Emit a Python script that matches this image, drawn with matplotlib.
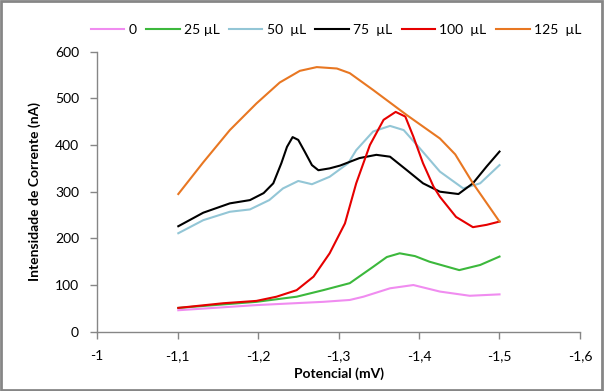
import matplotlib
matplotlib.use("Agg")
import matplotlib.pyplot as plt
from matplotlib.patches import Rectangle

plt.rcParams['font.family'] = ['Lato', 'DejaVu Sans']

# ---- data ----
x0 = [-1.101, -1.198, -1.281, -1.314, -1.331, -1.364, -1.393, -1.426, -1.463, -1.5]
y0 = [46, 57, 64, 68, 75, 93, 100, 86, 77, 80]

x25 = [-1.101, -1.198, -1.248, -1.281, -1.314, -1.343, -1.360, -1.376, -1.395, -1.413,
       -1.450, -1.476, -1.5]
y25 = [51, 64, 75, 89, 104, 139, 160, 168, 162, 150, 132, 143, 161]

x50 = [-1.101, -1.132, -1.165, -1.190, -1.214, -1.231, -1.250, -1.267, -1.289, -1.312,
       -1.322, -1.343, -1.364, -1.381, -1.401, -1.426, -1.455, -1.476, -1.5]
y50 = [211, 239, 257, 262, 282, 307, 323, 316, 332, 361,
       389, 429, 441, 432, 393, 343, 307, 318, 357]

x75 = [-1.101, -1.132, -1.165, -1.190, -1.207, -1.219, -1.229, -1.236, -1.243, -1.250,
       -1.258, -1.267, -1.275, -1.289, -1.302, -1.326, -1.347, -1.364, -1.385, -1.405,
       -1.426, -1.449, -1.467, -1.484, -1.5]
y75 = [226, 255, 275, 282, 297, 318, 361, 396, 417, 411,
       386, 357, 346, 350, 356, 372, 379, 375, 346, 318,
       300, 295, 318, 354, 386]

x100 = [-1.101, -1.157, -1.198, -1.223, -1.248, -1.269, -1.289, -1.308, -1.322, -1.339,
        -1.356, -1.371, -1.383, -1.393, -1.405, -1.418, -1.426, -1.446, -1.467, -1.484, -1.5]
y100 = [51, 61, 66, 75, 89, 118, 168, 232, 318, 400,
        454, 471, 461, 418, 361, 311, 289, 246, 224, 229, 236]

x125 = [-1.101, -1.132, -1.165, -1.198, -1.227, -1.252, -1.273, -1.298, -1.314, -1.343,
        -1.385, -1.426, -1.445, -1.467, -1.5]
y125 = [295, 363, 432, 489, 534, 559, 567, 564, 554, 518,
        464, 414, 380, 318, 236]

labels = ["0", "25 µL", "50  µL", "75  µL", "100  µL", "125  µL"]
colors = ["#F08CF0", "#3CB83C", "#93C6D6", "#000000", "#E60000", "#E87722"]

xticks = [-1.0, -1.1, -1.2, -1.3, -1.4, -1.5, -1.6]
xticklabels = ["-1", "-1,1", "-1,2", "-1,3", "-1,4", "-1,5", "-1,6"]
yticks = [0, 100, 200, 300, 400, 500, 600]

# ---- figure ----
fig = plt.figure(figsize=(6.04, 3.91), dpi=100)
ax = fig.add_axes([97 / 604, 1 - 331.7 / 391, 483 / 604, 280 / 391])

series = [(x0, y0), (x25, y25), (x50, y50), (x75, y75), (x100, y100), (x125, y125)]
for (xs, ys), lab, c in zip(series, labels, colors):
    ax.plot(xs, ys, color=c, lw=1.5, label=lab, solid_joinstyle="round")

ax.set_xlim(-1.0, -1.6)
ax.set_ylim(0, 600)
ax.set_xticks(xticks)
ax.set_xticklabels(xticklabels)
ax.set_yticks(yticks)

gray = "#868686"
for s in ["top", "right"]:
    ax.spines[s].set_visible(False)
for s in ["left", "bottom"]:
    ax.spines[s].set_color(gray)
    ax.spines[s].set_linewidth(1.0)
ax.tick_params(axis="both", colors=gray, length=5, width=1.0, labelsize=10,
               labelcolor="#000000", direction="out")
ax.tick_params(axis="x", pad=8)
ax.tick_params(axis="y", pad=8)

ax.set_xlabel("Potencial (mV)", fontsize=10, fontweight="bold", labelpad=4)
ax.set_ylabel("Intensidade de Corrente (nA)", fontsize=10, fontweight="bold", labelpad=10)

fig.legend(loc="center", bbox_to_anchor=(336 / 604, 1 - 30 / 391), ncol=6,
           frameon=False, fontsize=10, handlelength=2.4, columnspacing=0.7,
           handletextpad=0.3)

fig.patches.append(Rectangle((0.002, 0.003), 0.995, 0.994, transform=fig.transFigure,
                             fill=False, edgecolor=gray, linewidth=2))

fig.savefig("out.png", dpi=100)
